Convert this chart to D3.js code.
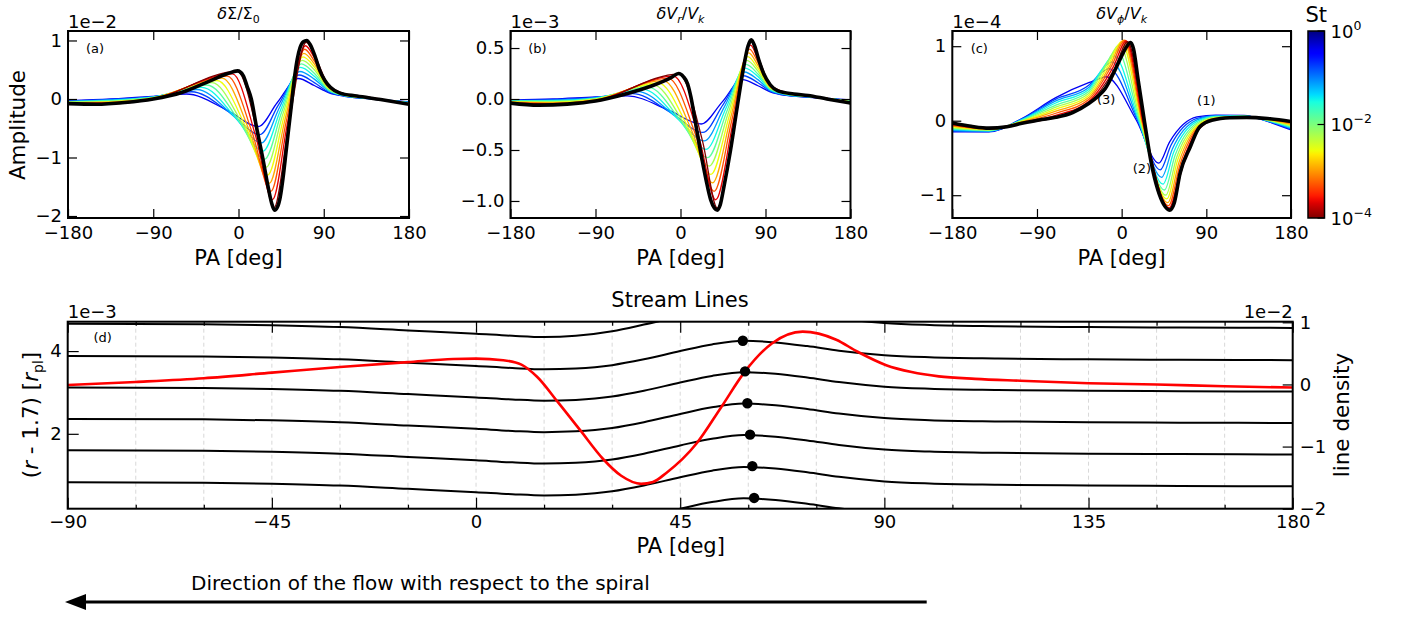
<!DOCTYPE html>
<html><head><meta charset="utf-8">
<script src="https://cdn.jsdelivr.net/npm/d3@7"></script>
<style>body{margin:0;background:#fff}text{font-family:"DejaVu Sans",sans-serif;fill:#000}</style>
</head><body><svg id="c" width="1406" height="619"></svg>
<script>
// ---------------- DATA ----------------
// Stokes numbers of the dust curves (dark red -> blue)
const stokes = [1e-4, 2.29e-4, 5.25e-4, 1.2e-3, 2.75e-3, 6.31e-3, 1.45e-2, 3.31e-2, 7.59e-2, 0.174, 0.398];

// ---- panel (a) dSigma/Sigma0 [1e-2] ----
const aHeadPA = [-180, -135, -90];
const aHeadV = [
  [-.08,-.075,-.07,-.065,-.06,-.055,-.05,-.045,-.04,-.035,-.03],
  [-.08,-.072,-.064,-.056,-.048,-.04,-.032,-.024,-.016,-.008,0],
  [0,.005,.009,.014,.018,.023,.027,.032,.036,.041,.045]];
const aBumpPA = [-1,-6.4,-11.8,-17.2,-22.6,-28,-33.4,-38.8,-44.2,-49.6,-55];
const aBumpV  = [.47,.43,.39,.355,.316,.278,.239,.2,.162,.124,.085];
const aDescPA = [21.5,18.2,14.8,11.5,8.1,4.75,1.4,-1.95,-5.3,-8.65,-12];
const aDescV  = [-.69,-.64,-.59,-.54,-.49,-.44,-.39,-.34,-.29,-.24,-.19];
const aDipPA  = [37.5,35.9,34.2,32.6,30.9,29.25,27.6,25.95,24.3,22.65,21];
const aDipV   = [-1.86,-1.72,-1.58,-1.44,-1.30,-1.165,-1.03,-.89,-.75,-.61,-.47];
const aRisePA = [53,51.8,50.6,49.4,48.2,47,45.8,44.6,43.4,42.2,41];
const aRiseV  = [-.445,-.41,-.37,-.33,-.29,-.25,-.215,-.18,-.14,-.1,-.06];
const aPeakPA = [71.5,70.6,69.8,69,68.1,67.25,66.4,65.6,64.7,63.9,63];
const aPeakV  = [.97,.91,.85,.78,.72,.66,.6,.54,.47,.41,.35];
const aTailPA = [80, 95, 112, 140, 180];
const aTailV = [
  [.76,.71,.65,.6,.55,.5,.44,.39,.34,.28,.23],
  [.24,.23,.21,.2,.19,.175,.16,.15,.14,.12,.11],
  [.09,.085,.08,.076,.072,.068,.063,.058,.054,.05,.045],
  [.025,.022,.02,.018,.015,.012,.01,.008,.005,.002,0],
  [-.09,-.086,-.082,-.078,-.074,-.07,-.066,-.062,-.058,-.054,-.05]];
const aGasPA = [-180,-150,-120,-90,-60,-30,-12,-1,5,9,13.5,19,25.5,31,35,38,41,44,47,50,53,56,59,62,65,68.5,72,76,81,86,91,97,107,125,150,180];
const aGasV  = [-.08,-.09,-.06,0,.11,.31,.43,.48,.40,.22,0,-.48,-1.0,-1.48,-1.78,-1.90,-1.85,-1.68,-1.35,-.93,-.5,-.08,.35,.68,.88,.98,1.0,.92,.72,.48,.32,.2,.1,.05,-.01,-.09];

// ---- panel (b) dVr/Vk [1e-3] ----
const bHeadPA = [-180, -135, -90];
const bHeadV = [
  [-.04,-.037,-.034,-.031,-.028,-.025,-.022,-.019,-.016,-.013,-.01],
  [-.055,-.05,-.044,-.039,-.033,-.028,-.022,-.017,-.011,-.006,0],
  [-.02,-.016,-.012,-.008,-.004,0,.004,.008,.012,.016,.02]];
const bBumpPA = [-2,-7.4,-12.8,-18.2,-23.6,-29,-34.4,-39.8,-45.2,-50.6,-56];
const bBumpV  = [.245,.224,.202,.181,.159,.138,.116,.095,.073,.052,.03];
const bDescPA = [23.5,19.9,16.2,12.6,8.9,5.25,1.6,-2.05,-5.7,-9.35,-13];
const bDescV  = [-.42,-.389,-.357,-.326,-.295,-.264,-.232,-.201,-.17,-.138,-.107];
const bDipPA  = [39,37.3,35.6,33.9,32.2,30.5,28.8,27.1,25.4,23.7,22];
const bDipV   = [-1.07,-.988,-.905,-.823,-.74,-.658,-.575,-.493,-.41,-.328,-.245];
const bRisePA = [57,55.7,54.4,53.1,51.8,50.5,49.2,47.9,46.6,45.3,44];
const bRiseV  = [-.25,-.228,-.206,-.184,-.162,-.14,-.118,-.096,-.074,-.052,-.03];
const bPeakPA = [75,74.1,73.1,72.2,71.2,70.3,69.4,68.4,67.5,66.5,65.6];
const bPeakV  = [.565,.528,.49,.453,.415,.378,.34,.303,.265,.228,.19];
const bTailPA = [82, 95, 112, 140, 180];
const bTailV = [
  [.42,.39,.36,.33,.3,.275,.245,.22,.19,.16,.13],
  [.14,.133,.126,.119,.112,.105,.098,.091,.084,.077,.07],
  [.065,.062,.059,.056,.053,.05,.047,.044,.041,.038,.035],
  [.03,.029,.027,.026,.024,.023,.021,.02,.018,.017,.015],
  [-.04,-.037,-.034,-.031,-.028,-.025,-.022,-.019,-.016,-.013,-.01]];
const bGasPA = [-180,-150,-120,-90,-60,-30,-10,-2,3,7.5,11,16,21.5,27,32,36,39,42,46,53,60,67,71.5,75,78.5,83,88,95,103,120,135,155,180];
const bGasV  = [-.04,-.06,-.05,-.02,.045,.13,.21,.25,.22,.15,.02,-.24,-.53,-.79,-.99,-1.07,-1.09,-1.04,-.86,-.5,-.08,.32,.52,.58,.52,.38,.25,.14,.08,.05,.035,0,-.04];

// ---- panel (c) dVphi/Vk [1e-4] ----
const cHeadPA = [-180, -141, -106, -70, -35];
const cHeadV = [
  [-.04,-.051,-.062,-.073,-.084,-.095,-.106,-.117,-.128,-.139,-.15],
  [-.1,-.105,-.11,-.115,-.12,-.125,-.13,-.135,-.14,-.145,-.15],
  [-.035,-.029,-.022,-.016,-.009,-.003,.004,.011,.017,.024,.03],
  [.045,.073,.1,.128,.155,.183,.21,.238,.265,.29,.31],
  [.23,.257,.284,.311,.338,.365,.392,.419,.446,.475,.51]];
const cUpPA   = [-7.5,-9,-10.5,-12,-14,-16.5,-19,-22,-24.5,-26.5,-26];
const cUpV    = [.70,.72,.74,.75,.75,.74,.71,.67,.62,.58,.55];
const cPeakPA = [6.5,5,3.5,2,0,-2.5,-5,-8,-10.5,-13.5,-17];
const cPeakV  = [1.06,1.07,1.08,1.08,1.06,1.02,.95,.87,.79,.70,.59];
const cDescPA = [24,23.2,22.3,21.5,20.6,19.75,18.9,18.05,17.2,16.35,15.5];
const cDescV  = [-.065,-.05,-.03,-.01,.005,.01,.01,.01,.015,.02,.01];
const cDipPA  = [51,50.5,49.8,49,48,47,45.5,44,42.5,41,39.5];
const cDipV   = [-1.19,-1.17,-1.14,-1.10,-1.05,-1.0,-.93,-.85,-.76,-.66,-.57];
const cRisePA = [65.4,64,62.5,61.1,59.6,58.2,56.8,55.3,53.9,52.4,51];
const cRiseV  = [-.6,-.585,-.57,-.55,-.525,-.5,-.465,-.425,-.38,-.33,-.285];
const cTailPA = [80, 100, 130, 155, 180];
const cTailV = [
  [-.15,-.13,-.11,-.09,-.07,-.05,-.03,-.01,.01,.03,.05],
  [.015,.021,.027,.033,.039,.045,.051,.057,.063,.069,.075],
  [.045,.048,.05,.053,.055,.058,.06,.063,.065,.068,.07],
  [.03,.026,.022,.018,.014,.01,.006,.002,-.002,-.006,-.01],
  [-.01,-.022,-.033,-.045,-.056,-.068,-.079,-.091,-.102,-.114,-.125]];
const cGasPA = [-180,-160,-141,-122,-106,-88,-70,-52,-35,-25,-17.5,-7,0,5,9.5,12.5,17.5,24.5,31.5,38.5,45,51,56,62,73,83,97,115,133,155,180];
const cGasV  = [-.03,-.075,-.10,-.08,-.035,.01,.045,.11,.23,.33,.43,.68,.87,.99,1.05,.97,.55,-.03,-.57,-.93,-1.13,-1.2,-1.1,-.71,-.35,-.08,.01,.04,.045,.03,-.01];
const cNotes = ["(1)", "(2)", "(3)"];
const cNotePA = [90, 21.5, -16.5];
const cNoteV  = [.27, -.64, .29];

// ---- panel (d) stream lines [1e-3] and line density [1e-2] ----
const streamPA = [-90,-60,-45,-30,-15,0,8,15,22,30,37,45,52,59,66,73,80,90,100,115,135,155,180];
const streamR = [
  [4.66,4.65,4.625,4.58,4.50,4.42,4.37,4.34,4.37,4.48,4.64,4.84,4.98,5.04,4.99,4.90,4.79,4.68,4.63,4.60,4.58,4.57,4.56],
  [3.88,3.87,3.845,3.80,3.72,3.64,3.59,3.56,3.58,3.66,3.80,4.00,4.16,4.25,4.21,4.12,4.01,3.90,3.85,3.82,3.80,3.79,3.78],
  [3.12,3.11,3.085,3.04,2.96,2.88,2.83,2.80,2.82,2.90,3.04,3.24,3.40,3.49,3.45,3.36,3.25,3.14,3.09,3.06,3.04,3.03,3.02],
  [2.36,2.35,2.325,2.28,2.20,2.12,2.07,2.04,2.06,2.14,2.28,2.48,2.64,2.73,2.69,2.60,2.49,2.38,2.33,2.30,2.28,2.27,2.26],
  [1.60,1.59,1.565,1.52,1.44,1.36,1.31,1.28,1.30,1.38,1.52,1.72,1.88,1.97,1.93,1.84,1.73,1.62,1.57,1.54,1.52,1.51,1.50],
  [0.83,0.82,0.795,0.75,0.67,0.59,0.54,0.51,0.53,0.61,0.75,0.95,1.11,1.20,1.16,1.07,0.96,0.85,0.80,0.77,0.75,0.74,0.73],
  [0.07,0.06,0.035,-0.01,-0.09,-0.17,-0.22,-0.25,-0.23,-0.15,-0.01,0.19,0.35,0.44,0.40,0.31,0.20,0.09,0.04,0.01,-0.01,-0.02,-0.03]];
const dotPA = [58.8, 59.3, 59.8, 60.4, 60.9, 61.3];
const dotR  = [4.25, 3.51, 2.74, 1.98, 1.22, 0.45];
const densPA = [-90,-75,-60,-45,-30,-15,-5,0,6,10,13.5,18,23,28,32,36.4,39,42,48.6,54,59.3,65.2,72,79.4,84,90.4,96,102,110,120,135,150,165,180];
const densV  = [-.01,.04,.1,.19,.28,.36,.41,.415,.39,.32,.12,-.28,-.74,-1.20,-1.47,-1.60,-1.57,-1.42,-.95,-.37,.21,.66,.85,.72,.53,.31,.2,.13,.09,.06,.02,0,-.03,-.05];

const paTicks = [-180, -90, 0, 90, 180];
const dTicks = [-90, -45, 0, 45, 90, 135, 180];

// ---------------- DRAWING ----------------
const svg = d3.select("#c");
svg.append("rect").attr("width",1406).attr("height",619).attr("fill","#fff");
const FONT = "DejaVu Sans";

const jetR=d3.scaleLinear().domain([0,0.35,0.66,0.89,1]).range([0,0,1,1,0.5]).clamp(true);
const jetG=d3.scaleLinear().domain([0,0.125,0.375,0.64,0.91,1]).range([0,0,1,1,0,0]).clamp(true);
const jetB=d3.scaleLinear().domain([0,0.11,0.34,0.65,1]).range([0.5,1,1,0,0]).clamp(true);
const jet = p => d3.rgb(jetR(p)*255, jetG(p)*255, jetB(p)*255).toString();
const stPos = d3.scaleLog().domain([1,1e-4]).range([0,1]);

function styleAxis(g, fs){
  g.select(".domain").remove();
  g.attr("font-family", FONT).attr("font-size", fs);
  g.selectAll(".tick line").attr("stroke","#000").attr("stroke-width",1.2);
  g.selectAll(".tick text").attr("fill","#000");
}
function axes4(g, x, y, xt, yt, xf, yf, tl){
  styleAxis(g.append("g").attr("transform",`translate(0,${y.range()[0]})`)
    .call(d3.axisBottom(x).tickValues(xt).tickSize(-tl).tickPadding(8).tickFormat(xf)), 18);
  styleAxis(g.append("g").attr("transform",`translate(0,${y.range()[1]})`)
    .call(d3.axisTop(x).tickValues(xt).tickSize(-tl).tickFormat("")), 18);
  styleAxis(g.append("g").attr("transform",`translate(${x.range()[0]},0)`)
    .call(d3.axisLeft(y).tickValues(yt).tickSize(-tl).tickPadding(6).tickFormat(yf)), 18);
  styleAxis(g.append("g").attr("transform",`translate(${x.range()[1]},0)`)
    .call(d3.axisRight(y).tickValues(yt).tickSize(-tl).tickFormat("")), 18);
}
function frame(g, x, y){
  g.append("rect").attr("x",x.range()[0]).attr("y",y.range()[1])
   .attr("width",x.range()[1]-x.range()[0]).attr("height",y.range()[0]-y.range()[1])
   .attr("fill","none").attr("stroke","#000").attr("stroke-width",2);
}
function clip(id, x, y){
  svg.append("clipPath").attr("id",id).append("rect")
    .attr("x",x.range()[0]).attr("y",y.range()[1])
    .attr("width",x.range()[1]-x.range()[0]).attr("height",y.range()[0]-y.range()[1]);
}
function label(t, x, y, fs, anchor){
  return svg.append("text").attr("x",x).attr("y",y).attr("font-size",fs)
    .attr("text-anchor",anchor||"middle").attr("dominant-baseline","central").text(t);
}

function buildCurve(k, headPA, headV, feats, tailPA, tailV){
  const pts = [];
  headPA.forEach((p,i)=>pts.push([p, headV[i][k]]));
  feats.forEach(([pa,v])=>pts.push([pa[k], v[k]]));
  tailPA.forEach((p,i)=>pts.push([p, tailV[i][k]]));
  pts.sort((a,b)=>a[0]-b[0]);
  return pts;
}

function panel(cfg){
  const x = d3.scaleLinear().domain([-180,180]).range([cfg.x0,cfg.x1]);
  const y = d3.scaleLinear().domain(cfg.ydom).range([218,31]);
  clip("clip"+cfg.id, x, y);
  const g = svg.append("g");
  const line = d3.line().x(d=>x(d[0])).y(d=>y(d[1])).curve(d3.curveMonotoneX);
  const lg = g.append("g").attr("clip-path",`url(#clip${cfg.id})`);
  for (let k = stokes.length-1; k >= 0; k--){
    const pts = buildCurve(k, cfg.headPA, cfg.headV, cfg.feats, cfg.tailPA, cfg.tailV);
    lg.append("path").attr("d", line(pts)).attr("fill","none")
      .attr("stroke", jet(stPos(stokes[k]))).attr("stroke-width",1.3);
  }
  lg.append("path").attr("d", line(cfg.gasPA.map((p,i)=>[p,cfg.gasV[i]])))
    .attr("fill","none").attr("stroke","#000").attr("stroke-width",3.6);
  axes4(g, x, y, paTicks, cfg.yticks, d3.format("d"), cfg.yfmt, 9);
  frame(g, x, y);
  label(cfg.offset, cfg.x0, 21.5, 18, "start");
  const cx = (cfg.x0+cfg.x1)/2;
  const t = svg.append("text").attr("x",cx).attr("y",19).attr("font-size",16).attr("text-anchor","middle");
  cfg.title(t);
  label(cfg.tag, cfg.x0+27, 48, 13);
  label("PA [deg]", cx, 258, 21);
  return {x,y};
}

function sub(t, s, italic){
  t.append("tspan").attr("dy",4).attr("font-size",11).attr("font-style",italic?"italic":"normal").text(s);
}
const pa = panel({id:"a", x0:68, x1:409, ydom:[-2.034,1.162], yticks:[-2,-1,0,1], yfmt:d3.format("d"),
  headPA:aHeadPA, headV:aHeadV,
  feats:[[aBumpPA,aBumpV],[aDescPA,aDescV],[aDipPA,aDipV],[aRisePA,aRiseV],[aPeakPA,aPeakV]],
  tailPA:aTailPA, tailV:aTailV, gasPA:aGasPA, gasV:aGasV, offset:"1e\u22122", tag:"(a)",
  title:t=>{ t.append("tspan").attr("font-style","italic").text("δ"); t.append("tspan").text("Σ/Σ"); sub(t,"0"); }});
const pb = panel({id:"b", x0:510.5, x1:850.5, ydom:[-1.167,0.667], yticks:[-1,-0.5,0,0.5], yfmt:d3.format(".1f"),
  headPA:bHeadPA, headV:bHeadV,
  feats:[[bBumpPA,bBumpV],[bDescPA,bDescV],[bDipPA,bDipV],[bRisePA,bRiseV],[bPeakPA,bPeakV]],
  tailPA:bTailPA, tailV:bTailV, gasPA:bGasPA, gasV:bGasV, offset:"1e\u22123", tag:"(b)",
  title:t=>{ t.append("tspan").attr("font-style","italic").text("δV"); sub(t,"r",true);
             t.append("tspan").attr("dy",-4).text("/"); t.append("tspan").attr("font-style","italic").text("V"); sub(t,"k",true); }});
const pc = panel({id:"c", x0:952.3, x1:1291, ydom:[-1.306,1.204], yticks:[-1,0,1], yfmt:d3.format("d"),
  headPA:cHeadPA, headV:cHeadV,
  feats:[[cUpPA,cUpV],[cPeakPA,cPeakV],[cDescPA,cDescV],[cDipPA,cDipV],[cRisePA,cRiseV]],
  tailPA:cTailPA, tailV:cTailV, gasPA:cGasPA, gasV:cGasV, offset:"1e\u22124", tag:"(c)",
  title:t=>{ t.append("tspan").attr("font-style","italic").text("δV"); sub(t,"ϕ",true);
             t.append("tspan").attr("dy",-4).text("/"); t.append("tspan").attr("font-style","italic").text("V"); sub(t,"k",true); }});
cNotes.forEach((n,i)=>label(n, pc.x(cNotePA[i]), pc.y(cNoteV[i]), 13));

svg.append("text").attr("transform","translate(17,125) rotate(-90)").attr("font-size",21.5)
  .attr("text-anchor","middle").attr("dominant-baseline","central").text("Amplitude");

// colorbar
const cb = {x:1308, y:31, w:16.5, h:187};
const grad = svg.append("defs").append("linearGradient").attr("id","jetg")
  .attr("x1",0).attr("y1",0).attr("x2",0).attr("y2",1);
d3.range(0,1.0001,0.02).forEach(o=>grad.append("stop").attr("offset",o).attr("stop-color",jet(o)));
svg.append("rect").attr("x",cb.x).attr("y",cb.y).attr("width",cb.w).attr("height",cb.h).attr("fill","url(#jetg)")
  .attr("stroke","#000").attr("stroke-width",1.5);
const cbScale = d3.scaleLog().domain([1,1e-4]).range([cb.y, cb.y+cb.h]);
[1,1e-2,1e-4].forEach(v=>{
  const yy = cbScale(v);
  svg.append("line").attr("x1",cb.x+cb.w-7).attr("x2",cb.x+cb.w).attr("y1",yy).attr("y2",yy).attr("stroke","#000").attr("stroke-width",1.2);
  const t = svg.append("text").attr("x",cb.x+cb.w+6).attr("y",yy+6.5).attr("font-size",18);
  t.append("tspan").text("10");
  t.append("tspan").attr("dy",-8).attr("font-size",12.5).text(v===1?"0":(v===1e-2?"\u22122":"\u22124"));
});
label("St", cb.x+cb.w/2, 15, 21);

// ---- panel (d)
const xd = d3.scaleLinear().domain([-90,180]).range([67.7,1292.7]);
const yd = d3.scaleLinear().domain([0.19,4.71]).range([508.7,321.7]);
const yr = d3.scaleLinear().domain([-2,1.01]).range([508.7,321.7]);
clip("clipd", xd, yd);
const gd = svg.append("g");
gd.append("g").selectAll("line").data(d3.range(-75,180,15)).join("line")
  .attr("x1",d=>xd(d)).attr("x2",d=>xd(d)).attr("y1",321.7).attr("y2",508.7)
  .attr("stroke","#d8d8d8").attr("stroke-width",1).attr("stroke-dasharray","4,3");
const dl = gd.append("g").attr("clip-path","url(#clipd)");
const sline = d3.line().x((d,i)=>xd(streamPA[i])).y(d=>yd(d)).curve(d3.curveMonotoneX);
streamR.forEach(s=>dl.append("path").attr("d",sline(s)).attr("fill","none").attr("stroke","#000").attr("stroke-width",2));
const rline = d3.line().x((d,i)=>xd(densPA[i])).y(d=>yr(d)).curve(d3.curveMonotoneX);
dl.append("path").attr("d",rline(densV)).attr("fill","none").attr("stroke","#ff0000").attr("stroke-width",2.6);
dl.selectAll("circle").data(dotPA).join("circle").attr("cx",d=>xd(d)).attr("cy",(d,i)=>yd(dotR[i])).attr("r",5.2).attr("fill","#000");
const minorT = d3.range(-90,181,15).filter(v=>v%45!==0);
styleAxis(gd.append("g").attr("transform","translate(0,508.7)")
  .call(d3.axisBottom(xd).tickValues(dTicks).tickSize(-11).tickPadding(7).tickFormat(d3.format("d"))), 18);
styleAxis(gd.append("g").attr("transform","translate(0,508.7)")
  .call(d3.axisBottom(xd).tickValues(minorT).tickSize(-4).tickFormat("")), 18);
styleAxis(gd.append("g").attr("transform","translate(0,321.7)")
  .call(d3.axisTop(xd).tickValues(dTicks).tickSize(-11).tickFormat("")), 18);
styleAxis(gd.append("g").attr("transform","translate(0,321.7)")
  .call(d3.axisTop(xd).tickValues(minorT).tickSize(-4).tickFormat("")), 18);
styleAxis(gd.append("g").attr("transform","translate(67.7,0)")
  .call(d3.axisLeft(yd).tickValues([2,4]).tickSize(-11).tickPadding(6).tickFormat(d3.format("d"))), 18);
styleAxis(gd.append("g").attr("transform","translate(1292.7,0)")
  .call(d3.axisRight(yr).tickValues([-2,-1,0,1]).tickSize(-10).tickPadding(7).tickFormat(d3.format("d"))), 18);
frame(gd, xd, yd);
label("(d)", 102.7, 337.7, 13);
label("1e\u22123", 67.7, 311.5, 18, "start");
label("1e\u22122", 1292.7, 311.5, 18, "end");
label("Stream Lines", 680, 300, 21);
label("PA [deg]", 680.7, 546, 21);
svg.append("text").attr("transform","translate(1341,415) rotate(-90)").attr("font-size",21.5)
  .attr("text-anchor","middle").attr("dominant-baseline","central").text("line density");
const yl = svg.append("text").attr("transform","translate(38,415) rotate(-90)").attr("font-size",21.5)
  .attr("text-anchor","middle");
yl.append("tspan").text("(");
yl.append("tspan").attr("font-style","italic").text("r");
yl.append("tspan").text(" - 1.7) [");
yl.append("tspan").attr("font-style","italic").text("r");
yl.append("tspan").attr("dy",5).attr("font-size",14).text("pl");
yl.append("tspan").attr("dy",-5).text("]");

// arrow
svg.append("line").attr("x1",926.7).attr("x2",80).attr("y1",602).attr("y2",602).attr("stroke","#000").attr("stroke-width",3);
svg.append("path").attr("d","M65,602 L86,594 L86,610 Z").attr("fill","#000");
svg.append("text").attr("x",191).attr("y",590).attr("font-size",20).text("Direction of the flow with respect to the spiral");
</script></body></html>
